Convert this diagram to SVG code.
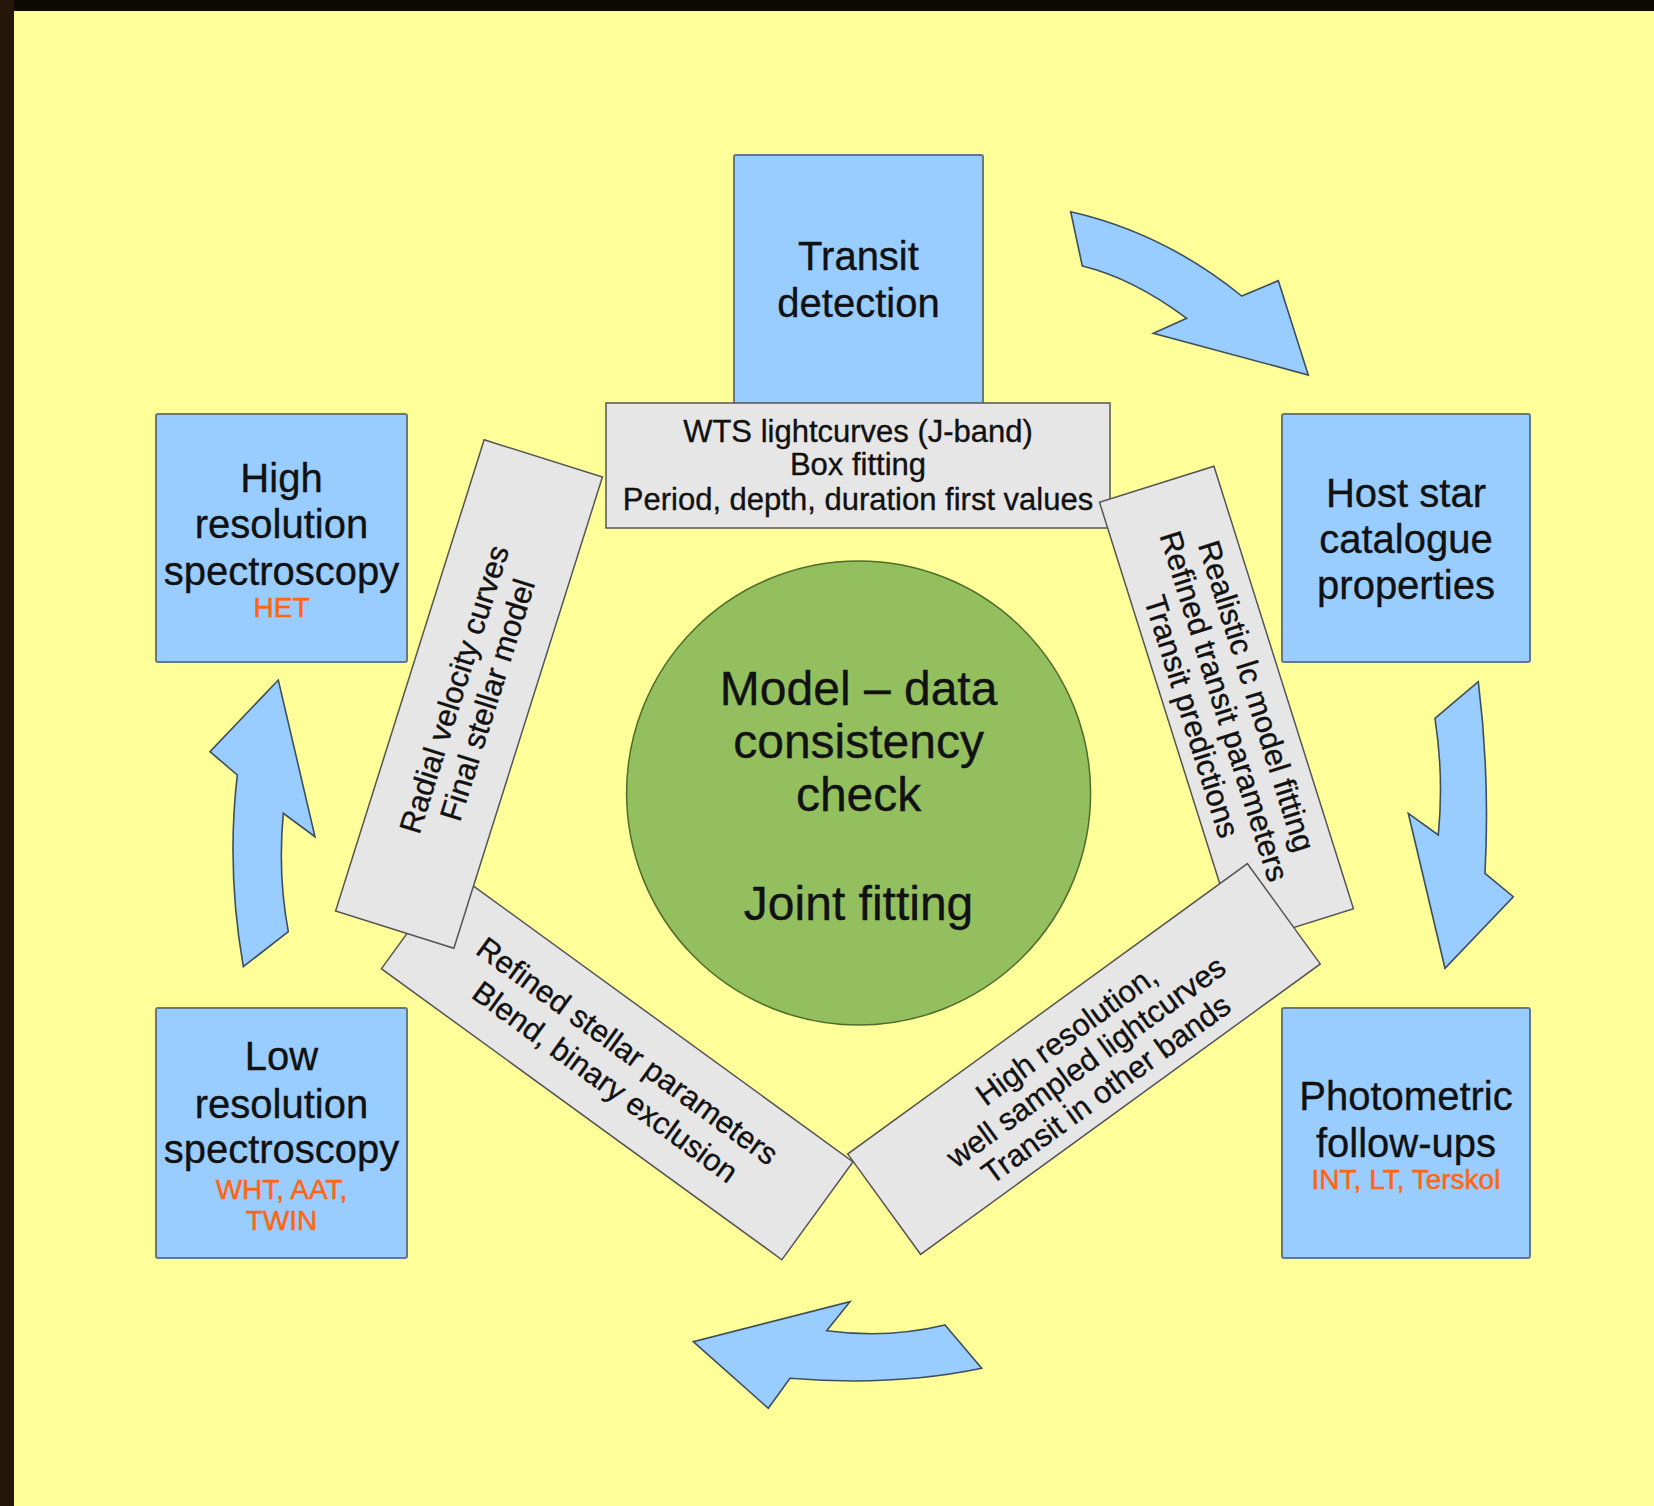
<svg xmlns="http://www.w3.org/2000/svg" width="1654" height="1506" viewBox="0 0 1654 1506">
<style>
.bg{fill:#ffff99}
.blue{fill:#99ccff;stroke:#667788;stroke-width:2}
.gray{fill:#e6e6e6;stroke:#555555;stroke-width:1.5}
.arrow{fill:#99ccff;stroke:#3d4f5f;stroke-width:1.6;stroke-linejoin:miter}
text{font-family:"Liberation Sans",Arial,sans-serif;fill:#111111;stroke:#111111;stroke-width:0.35;text-anchor:middle}
.big{font-size:40px}
.circ{font-size:48px}
.small{font-size:31px}
.org{font-size:28px;fill:#ff6611;stroke:#ff6611;stroke-width:0.5}
</style>
<rect class="bg" x="0" y="0" width="1654" height="1506"/>
<rect x="0" y="0" width="1654" height="11" fill="#0c0804"/>
<rect x="0" y="0" width="14" height="1506" fill="#241608"/>

<g id="connectors">
<path class="arrow" d="M1070.7,211.7 Q1163.8,232.8 1241.7,296 L1278.3,280.7 L1308.3,375 L1153.3,333.3 L1186.7,318.3 Q1132.1,277.9 1082.3,266 Z"/>
<path class="arrow" d="M1478.3,681.7 L1435,718.3 Q1444,776.8 1438.3,835 L1408.3,813.3 L1445,968.3 L1513.3,896.7 L1485,873.3 Q1490,775.9 1478.3,681.7 Z"/>
<path class="arrow" d="M945,1325 L981.7,1368.3 Q894.2,1386.7 790,1378.3 L768.3,1408.3 L693.3,1341.7 L850,1301.7 L826.7,1330.7 Q887.6,1338.8 945,1325 Z"/>
<path class="arrow" d="M243.3,966.7 L288.3,931.7 Q277.6,874.1 283.3,813.3 L315,836.7 L278.3,680 L210,751.7 L237.3,775 Q226.3,869.2 243.3,966.7 Z"/>
</g>

<g id="transit-detection">
<rect class="blue" x="734" y="155" width="249" height="265" rx="2"/>
<text class="big" x="858.5" y="270">Transit</text>
<text class="big" x="858.5" y="317">detection</text>
</g>

<g id="host-star">
<rect class="blue" x="1282" y="414" width="248" height="248" rx="2"/>
<text class="big" x="1406" y="507">Host star</text>
<text class="big" x="1406" y="553">catalogue</text>
<text class="big" x="1406" y="599">properties</text>
</g>

<g id="photometric">
<rect class="blue" x="1282" y="1008" width="248" height="250" rx="2"/>
<text class="big" x="1406" y="1110">Photometric</text>
<text class="big" x="1406" y="1157">follow-ups</text>
<text class="org" x="1406" y="1189">INT, LT, Terskol</text>
</g>

<g id="low-res">
<rect class="blue" x="156" y="1008" width="251" height="250" rx="2"/>
<text class="big" x="281.5" y="1070">Low</text>
<text class="big" x="281.5" y="1118">resolution</text>
<text class="big" x="281.5" y="1163">spectroscopy</text>
<text class="org" x="281.5" y="1199">WHT, AAT,</text>
<text class="org" x="281.5" y="1230">TWIN</text>
</g>

<g id="high-res">
<rect class="blue" x="156" y="414" width="251" height="248" rx="2"/>
<text class="big" x="281.5" y="492">High</text>
<text class="big" x="281.5" y="538">resolution</text>
<text class="big" x="281.5" y="585">spectroscopy</text>
<text class="org" x="281.5" y="617">HET</text>
</g>

<g id="model-check">
<circle cx="858.6" cy="793" r="232" fill="#93bf5e" stroke="#4f6d2c" stroke-width="1.5"/>
<text class="circ" x="858.6" y="705">Model – data</text>
<text class="circ" x="858.6" y="758">consistency</text>
<text class="circ" x="858.6" y="811">check</text>
<text class="circ" x="858.6" y="920">Joint fitting</text>
</g>

<g id="wts-box">
<rect class="gray" x="606" y="403" width="504" height="125"/>
<text class="small" x="858" y="442">WTS lightcurves (J-band)</text>
<text class="small" x="858" y="475">Box fitting</text>
<text class="small" x="858" y="510">Period, depth, duration first values</text>
</g>

<g id="lc-model-box" transform="translate(1226.5,705.5) rotate(72.5)">
<rect class="gray" x="-232" y="-60" width="464" height="120"/>
<text class="small" x="0" y="-21">Realistic lc model fitting</text>
<text class="small" x="0" y="13">Refined transit parameters</text>
<text class="small" x="0" y="47">Transit predictions</text>
</g>

<g id="hires-lc-box" transform="translate(1084,1059) rotate(-36)">
<rect class="gray" x="-247" y="-62" width="494" height="124"/>
<text class="small" x="0" y="-19">High resolution,</text>
<text class="small" x="0" y="14">well sampled lightcurves</text>
<text class="small" x="0" y="48">Transit in other bands</text>
</g>

<g id="stellar-box" transform="translate(617.2,1065.3) rotate(36)">
<rect class="gray" x="-247.5" y="-60.5" width="495" height="121"/>
<text class="small" x="0" y="-7">Refined stellar parameters</text>
<text class="small" x="0" y="31">Blend, binary exclusion</text>
</g>

<g id="rv-box" transform="translate(469,694) rotate(-72.5)">
<rect class="gray" x="-247" y="-62" width="494" height="124"/>
<text class="small" x="0" y="-5">Radial velocity curves</text>
<text class="small" x="0" y="30">Final stellar model</text>
</g>
</svg>
